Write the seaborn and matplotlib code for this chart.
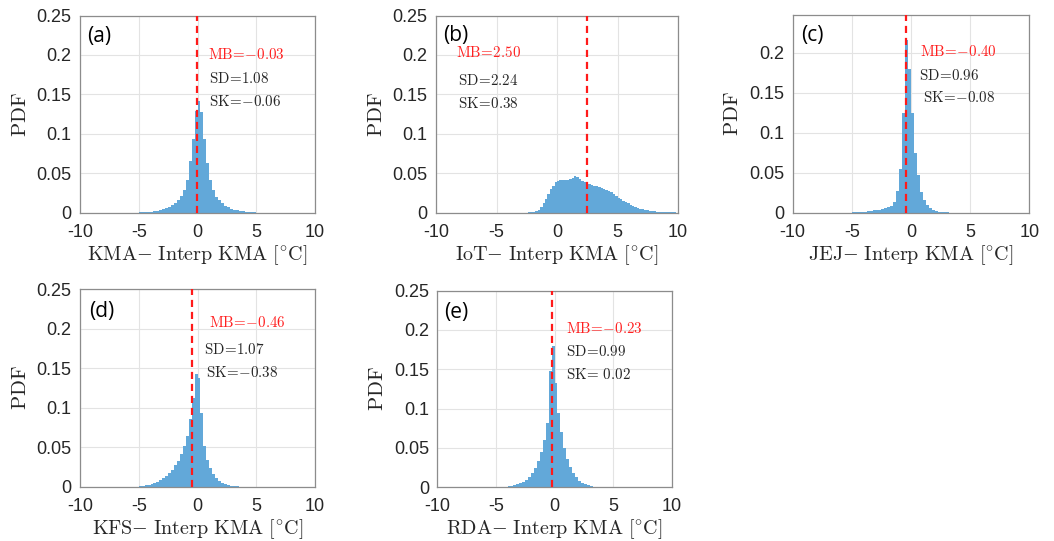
import numpy as np
import pandas as pd
import matplotlib
matplotlib.use("Agg")
import matplotlib.pyplot as plt
from matplotlib.ticker import FuncFormatter
import seaborn as sns

# ---- data: per-bin PDF heights of temperature differences (station - interpolated KMA) ----
panel_ids = ["(a)", "(b)", "(c)", "(d)", "(e)"]
sources = ["KMA", "IoT", "JEJ", "KFS", "RDA"]
mean_bias = [-0.03, 2.50, -0.40, -0.46, -0.23]
std_dev = [1.08, 2.24, 0.96, 1.07, 0.99]
skewness = [-0.06, 0.38, -0.08, -0.38, 0.02]

bin_start = [-5.0, -2.4, -5.0, -5.0, -5.0]
bin_width = [0.25, 0.2, 0.25, 0.25, 0.25]

pdf_kma = [0.0004, 0.0006, 0.0008, 0.0011, 0.0015, 0.0020, 0.0027, 0.0035, 0.0046, 0.0060,
           0.0078, 0.0100, 0.0128, 0.0165, 0.0215, 0.0290, 0.0410, 0.0650, 0.0940, 0.1290,
           0.1420, 0.1280, 0.0940, 0.0630, 0.0410, 0.0285, 0.0205, 0.0155, 0.0118, 0.0090,
           0.0068, 0.0052, 0.0040, 0.0030, 0.0022, 0.0016, 0.0012, 0.0009, 0.0006, 0.0004]

pdf_iot = [0.0003, 0.0006, 0.0010, 0.0018, 0.0037, 0.0070, 0.0120, 0.0180, 0.0240, 0.0300,
           0.0345, 0.0385, 0.0405, 0.0410, 0.0412, 0.0415, 0.0420, 0.0428, 0.0445, 0.0462,
           0.0448, 0.0425, 0.0405, 0.0390, 0.0375, 0.0362, 0.0352, 0.0343, 0.0335, 0.0325,
           0.0315, 0.0303, 0.0292, 0.0275, 0.0258, 0.0238, 0.0215, 0.0192, 0.0172, 0.0152,
           0.0135, 0.0118, 0.0102, 0.0088, 0.0075, 0.0063, 0.0053, 0.0044, 0.0036, 0.0030,
           0.0024, 0.0020, 0.0016, 0.0013, 0.0011, 0.0009, 0.0007, 0.0006, 0.0005, 0.0004,
           0.0003, 0.0002]

pdf_jej = [0.0004, 0.0006, 0.0009, 0.0012, 0.0015, 0.0019, 0.0023, 0.0028, 0.0034, 0.0040,
           0.0048, 0.0058, 0.0070, 0.0090, 0.0140, 0.0270, 0.0550, 0.1240, 0.2160, 0.1790,
           0.1240, 0.0750, 0.0470, 0.0260, 0.0160, 0.0095, 0.0060, 0.0038, 0.0024, 0.0015,
           0.0009, 0.0005, 0.0003, 0.0002, 0.0001, 0.0001, 0.0, 0.0, 0.0, 0.0]

pdf_kfs = [0.0008, 0.0012, 0.0017, 0.0024, 0.0033, 0.0045, 0.0060, 0.0080, 0.0105, 0.0135,
           0.0170, 0.0215, 0.0270, 0.0330, 0.0410, 0.0510, 0.0640, 0.0860, 0.1120, 0.1420,
           0.1370, 0.0930, 0.0520, 0.0340, 0.0240, 0.0165, 0.0110, 0.0072, 0.0046, 0.0029,
           0.0018, 0.0011, 0.0006, 0.0003, 0.0002, 0.0001, 0.0, 0.0, 0.0, 0.0]

pdf_rda = [0.0002, 0.0003, 0.0005, 0.0008, 0.0012, 0.0018, 0.0026, 0.0037, 0.0052, 0.0072,
           0.0098, 0.0135, 0.0185, 0.0250, 0.0330, 0.0450, 0.0600, 0.0820, 0.1480, 0.1800,
           0.1320, 0.0940, 0.0700, 0.0500, 0.0360, 0.0260, 0.0180, 0.0125, 0.0085, 0.0058,
           0.0038, 0.0024, 0.0015, 0.0009, 0.0005, 0.0003, 0.0002, 0.0001, 0.0, 0.0]

pdf_values = [pdf_kma, pdf_iot, pdf_jej, pdf_kfs, pdf_rda]

x_ticks = [-10, -5, 0, 5, 10]
y_ticks = [0, 0.05, 0.1, 0.15, 0.2, 0.25]

# ---- layout (figure fractions: left, bottom, width, height) ----
axes_rects = [
    [0.0759, 0.6068, 0.2230, 0.3645],
    [0.4137, 0.6068, 0.2296, 0.3645],
    [0.7521, 0.6068, 0.2245, 0.3654],
    [0.0759, 0.1004, 0.2230, 0.3654],
    [0.4149, 0.0993, 0.2224, 0.3634],
]
y_tops = [0.25, 0.25, 0.247, 0.25, 0.25]

# stats text anchor positions (data coords) for the MB, SD and SK lines
stats_pos = [
    dict(mb=(0.89, 0.201), sd=(0.95, 0.170), sk=(0.95, 0.141)),
    dict(mb=(-8.35, 0.203), sd=(-8.2, 0.168), sk=(-8.2, 0.138)),
    dict(mb=(0.77, 0.202), sd=(0.68, 0.172), sk=(1.02, 0.144)),
    dict(mb=(1.0, 0.208), sd=(0.57, 0.173), sk=(0.72, 0.144)),
    dict(mb=(0.97, 0.202), sd=(0.97, 0.1725), sk=(0.97, 0.143)),
]
label_pos = [(-9.4, 0.224), (-9.4, 0.225), (-9.3, 0.222), (-9.25, 0.222), (-9.4, 0.222)]

sns.set_theme(style="white")
plt.rcParams["font.family"] = ["Liberation Sans", "DejaVu Sans"]
plt.rcParams["mathtext.fontset"] = "cm"
plt.rcParams["axes.unicode_minus"] = False

bar_color = "#62a8d9"
frame_color = "#8c8c8c"
text_color = "#262626"


def fmt_num(v, _pos=None):
    return f"{v:g}"


def signed(v):
    s = f"{v:.2f}"
    return s.replace("-", "{-}")


def stat_text(name, value, pad_positive=False):
    num = signed(value)
    if pad_positive and value >= 0:
        num = r"\ " + num
    return r"$\mathrm{" + name + r"}\!=\!" + num + "$"


fig = plt.figure(figsize=(10.54, 5.41), dpi=100)

for i in range(5):
    ax = fig.add_axes(axes_rects[i])
    vals = np.asarray(pdf_values[i], dtype=float)
    edges = bin_start[i] + bin_width[i] * np.arange(len(vals) + 1)
    centers = 0.5 * (edges[:-1] + edges[1:])
    df = pd.DataFrame({"diff": centers, "pdf": vals})
    sns.histplot(data=df, x="diff", weights="pdf", bins=[float(e) for e in edges],
                 stat="count", color=bar_color, alpha=1.0, linewidth=0, ax=ax)

    ax.axvline(mean_bias[i], color="#ff1a1a", linestyle=(0, (3.2, 2.2)), linewidth=1.6, zorder=5)

    ax.set_xlim(-10, 10)
    ax.set_ylim(0, y_tops[i])
    ax.set_xticks(x_ticks)
    ax.set_yticks([t for t in y_ticks if t <= y_tops[i] + 1e-9])
    ax.xaxis.set_major_formatter(FuncFormatter(fmt_num))
    ax.yaxis.set_major_formatter(FuncFormatter(fmt_num))
    ax.grid(True, color="#e3e3e3", linewidth=0.8)
    ax.set_axisbelow(True)
    ax.tick_params(axis="both", direction="in", length=3, width=0.8, color=frame_color,
                   labelsize=13, labelcolor=text_color)
    ax.tick_params(axis="x", pad=8)
    ax.tick_params(axis="y", pad=6)
    for sp in ax.spines.values():
        sp.set_visible(True)
        sp.set_color(frame_color)
        sp.set_linewidth(0.9)

    ax.set_xlabel(r"$\mathrm{" + sources[i] + r"}{-}\ \mathrm{Interp\ KMA}\ [^{\circ}\mathrm{C}]$",
                  fontsize=14.5, color=text_color, labelpad=1.5)
    ax.set_ylabel(r"$\mathrm{PDF}$", fontsize=15, color=text_color, labelpad=5)

    p = stats_pos[i]
    ax.text(*p["mb"], stat_text("MB", mean_bias[i]), color="#ff2020",
            fontsize=10.8, va="center", ha="left")
    ax.text(*p["sd"], stat_text("SD", std_dev[i]), color=text_color,
            fontsize=10.8, va="center", ha="left")
    ax.text(*p["sk"], stat_text("SK", skewness[i], pad_positive=(i == 4)), color=text_color,
            fontsize=10.8, va="center", ha="left")

    ax.text(*label_pos[i], panel_ids[i], fontsize=15, color="black", va="center", ha="left",
            family=["Open Sans", "DejaVu Sans"])

fig.savefig("out.png", dpi=100)
